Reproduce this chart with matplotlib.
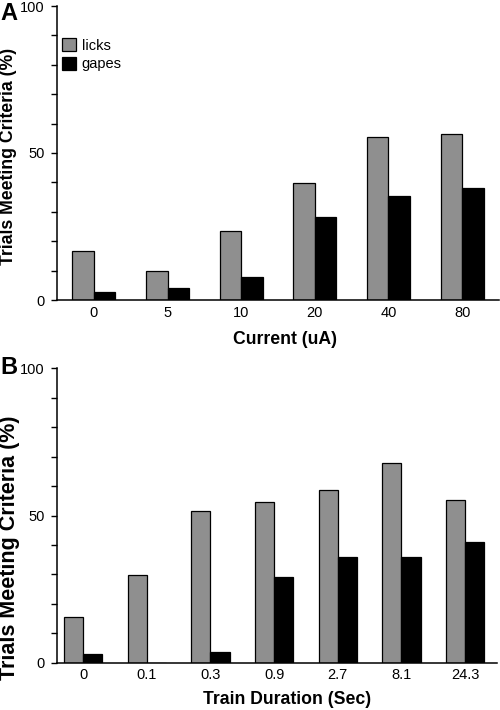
import numpy as np
import matplotlib
matplotlib.use('Agg')
import matplotlib.pyplot as plt

plt.rcParams['font.family'] = ['Liberation Sans', 'DejaVu Sans']

# panel A: stimulation current
current_labels = ['0', '5', '10', '20', '40', '80']
licks_a = [16.8, 10.0, 23.4, 39.7, 55.5, 56.5]
gapes_a = [2.8, 4.2, 7.7, 28.3, 35.4, 38.2]

# panel B: train duration
duration_labels = ['0', '0.1', '0.3', '0.9', '2.7', '8.1', '24.3']
licks_b = [15.4, 29.8, 51.6, 54.5, 58.6, 67.9, 55.4]
gapes_b = [2.9, 0.0, 3.7, 29.2, 35.8, 35.8, 40.9]

gray = '#8f8f8f'
W, H = 500, 710

fig = plt.figure(figsize=(W / 100, H / 100), dpi=100)
ax_a = fig.add_axes([57 / W, 1 - 300 / H, 442 / W, 294 / H])
ax_b = fig.add_axes([57 / W, 1 - 662.7 / H, 440 / W, 294.4 / H])


def draw_panel(ax, labels, licks, gapes, width, xlim):
    x = np.arange(len(labels))
    ax.bar(x - width / 2, licks, width, color=gray, edgecolor='black', linewidth=0.9, label='licks')
    ax.bar(x + width / 2, gapes, width, color='black', edgecolor='black', linewidth=0.9, label='gapes')
    ax.set_xlim(*xlim)
    ax.set_ylim(0, 100)
    ax.set_xticks(x)
    ax.set_xticklabels(labels, fontsize=10.5)
    ax.set_yticks(np.arange(0, 101, 10))
    ax.set_yticklabels(['0', '', '', '', '', '50', '', '', '', '', '100'], fontsize=10.5)
    ax.tick_params(axis='x', length=0, pad=4)
    ax.tick_params(axis='y', direction='out', length=4, width=1, pad=5)
    for s in ['top', 'right']:
        ax.spines[s].set_visible(False)
    for s in ['left', 'bottom']:
        ax.spines[s].set_linewidth(1.1)


draw_panel(ax_a, current_labels, licks_a, gapes_a, 0.29, (-0.5, 5.5))
draw_panel(ax_b, duration_labels, licks_b, gapes_b, 0.30, (-0.41, 6.5))

ax_a.legend(loc='upper left', bbox_to_anchor=(0.011, 0.89), frameon=False, fontsize=10.5,
            borderaxespad=0, borderpad=0, handlelength=0.95, handleheight=0.95,
            handletextpad=0.4, labelspacing=0.3)

fig.text(285 / W, 1 - 339 / H, 'Current (uA)', ha='center', va='center', fontsize=12.7, fontweight='bold')
fig.text(287 / W, 1 - 700 / H, 'Train Duration (Sec)', ha='center', va='center', fontsize=12.7, fontweight='bold')

fig.text(9 / W, 1 - 156 / H, 'Trials Meeting Criteria (%)', rotation=90, ha='center', va='center',
         fontsize=12.7, fontweight='bold')
fig.text(10 / W, 1 - 548 / H, 'Trials Meeting Criteria (%)', rotation=90, ha='center', va='center',
         fontsize=15.5, fontweight='bold')

fig.text(0, 1 - 2 / H, 'A', ha='left', va='top', fontsize=17, fontweight='bold')
fig.text(0, 1 - 356 / H, 'B', ha='left', va='top', fontsize=17, fontweight='bold')

fig.savefig('out.png', dpi=100)
